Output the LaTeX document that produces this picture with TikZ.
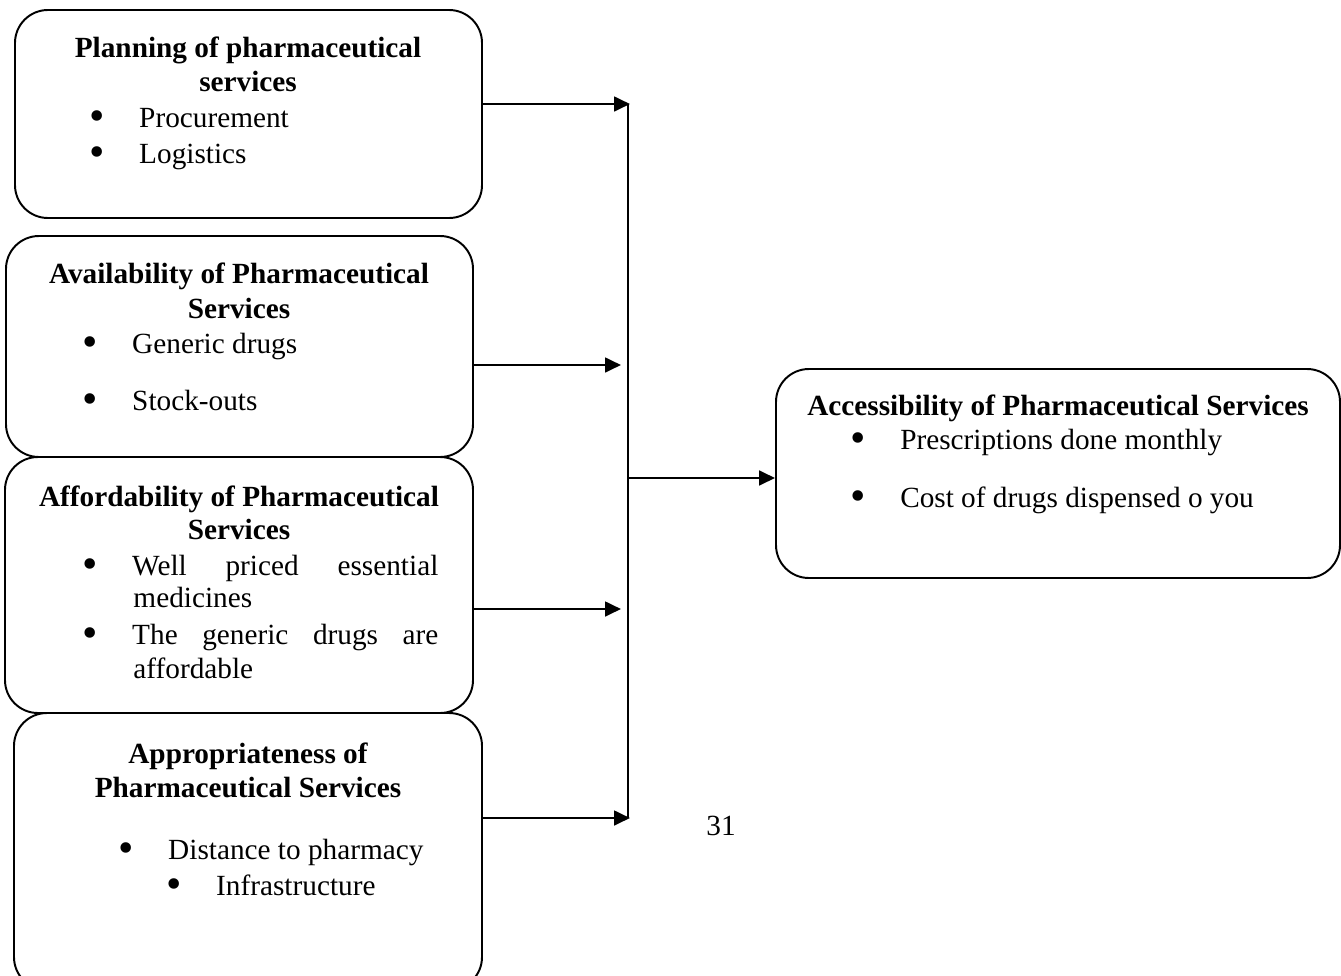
\documentclass[tikz,border=0pt]{standalone}
\usepackage{fontspec}
\setmainfont{Liberation Serif}
\usetikzlibrary{arrows.meta, positioning, fit}
\tikzset{
  box/.style={rectangle, rounded corners=13.5pt, draw=black, line width=0.8pt, inner sep=0pt},
  ttl/.style={anchor=base, inner sep=0pt, font=\fontsize{12pt}{13.8pt}\selectfont\bfseries},
  itm/.style={anchor=base west, inner sep=0pt, font=\fontsize{12pt}{13.8pt}\selectfont},
  busline/.style={line width=1pt},
  arrow/.style={line width=1pt, -{Triangle[length=6.5pt,width=6pt]}}
}
\newcommand{\blt}{\makebox[20.4pt][l]{\smash{\raisebox{-1.3pt}{\scalebox{1.5}{\textbullet}}}}}

\begin{document}
\begin{tikzpicture}[x=0.41pt, y=-0.41pt]
    \clip (0,0) rectangle (1341,975);

    % boxes
    \node (planning) [box, fit={(15,10) (482,218)}] {};
    \node (availability) [box, fit={(6,236) (473,457)}] {};
    \node (affordability) [box, fit={(5,457) (473,713)}] {};
    \node (appropriateness) [box, fit={(14,713) (482,990)}] {};
    \node (accessibility) [box, fit={(776,369) (1340,578)}] {};

    % texts
    \node (planTitle) [ttl] at (248,57) {Planning of pharmaceutical};
    \node (planTitleB) [ttl] at (248,91) {services};
    \node (procurement) [itm] at (89,127) {\blt Procurement};
    \node (logistics) [itm] at (89,163) {\blt Logistics};

    \node (availTitle) [ttl] at (239,283) {Availability of Pharmaceutical};
    \node (availTitleB) [ttl] at (239,318) {Services};
    \node (generic) [itm] at (82,353) {\blt Generic drugs};
    \node (stockouts) [itm] at (82,410) {\blt Stock-outs};

    \node (affordTitle) [ttl] at (239,506) {Affordability of Pharmaceutical};
    \node (affordTitleB) [ttl] at (239,539) {Services};
    \node (wellPriced) [itm] at (82,575) {\blt\makebox[125.5pt][s]{Well priced essential}};
    \node (wellPricedB) [itm] at (133,607) {medicines};
    \node (genericAfford) [itm] at (82,644) {\blt\makebox[125.5pt][s]{The generic drugs are}};
    \node (genericAffordB) [itm] at (133,678) {affordable};

    \node (approTitle) [ttl] at (248,763) {Appropriateness of};
    \node (approTitleB) [ttl] at (248,797) {Pharmaceutical Services};
    \node (distance) [itm] at (118,859) {\blt Distance to pharmacy};
    \node (infra) [itm] at (166,895) {\blt Infrastructure};

    \node (accessTitle) [ttl] at (1058,415) {Accessibility of Pharmaceutical Services};
    \node (prescriptions) [itm] at (850,449) {\blt Prescriptions done monthly};
    \node (cost) [itm] at (850,507) {\blt Cost of drugs dispensed o you};

    \node (pageNo) [itm, anchor=base] at (721,835) {31};

    % connectors
    \coordinate (t1) at (630,104);
    \coordinate (t2) at (621,365);
    \coordinate (t3) at (621,609);
    \coordinate (t4) at (630,818);
    \coordinate (hub) at (628,478);

    \draw [arrow] (planning.east |- t1) -- (t1);
    \draw [arrow] (availability.east |- t2) -- (t2);
    \draw [arrow] (affordability.east |- t3) -- (t3);
    \draw [arrow] (appropriateness.east |- t4) -- (t4);
    \draw [busline] (t1 -| hub) -- (t4 -| hub);
    \draw [arrow] (hub) -- (hub -| accessibility.west);

\end{tikzpicture}
\end{document}
